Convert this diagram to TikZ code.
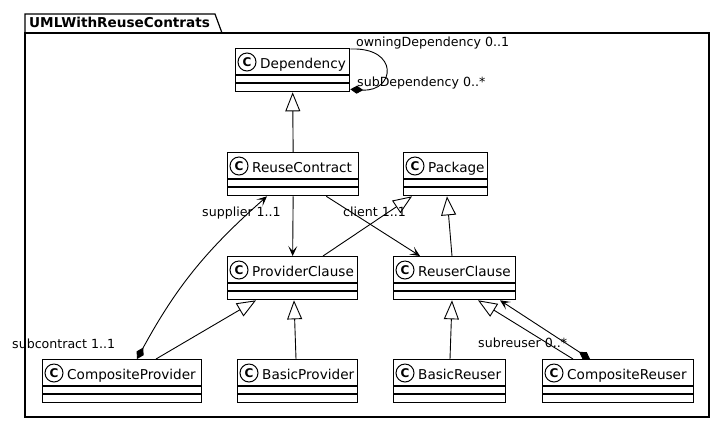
\documentclass[tikz,border=0pt]{standalone}
\usepackage{fontspec}
\setmainfont{DejaVu Sans}
\usetikzlibrary{arrows.meta,calc}
\tikzset{
  classbox/.style={draw, line width=1.3bp, fill=white, minimum height=43bp, inner sep=0pt, anchor=north west},
  cname/.style={font=\fontsize{13.6bp}{16bp}\selectfont, inner sep=0pt, anchor=base west},
  circ/.style={draw, circle, line width=1bp, minimum size=18bp, inner sep=0pt, font=\fontsize{12bp}{12bp}\selectfont\bfseries},
  role/.style={font=\fontsize{12.6bp}{15bp}\selectfont, inner sep=0pt, anchor=base west},
  conn/.style={line width=0.9bp},
  gen/.style={conn, -{Triangle[open, length=19bp, width=15bp, line width=0.9bp]}},
  nav/.style={conn, -{Stealth[length=10bp, width=9bp, inset=5bp]}},
  comp/.style={conn, {Diamond[length=13bp, width=8bp]}-{Stealth[length=10bp, width=9bp, inset=5bp]}},
  frame/.style={draw, line width=1.2bp},
}
\newcommand{\umlclass}[5]{%
  \node[classbox, minimum width=#4bp] (#1) at (#2,#3) {};
  \draw[line width=1.2bp] ([yshift=-27bp]#1.north west) -- ([yshift=-27bp]#1.north east);
  \draw[line width=1.2bp] ([yshift=-35bp]#1.north west) -- ([yshift=-35bp]#1.north east);
  \node[circ] (#1-c) at ([xshift=12bp,yshift=-14bp]#1.north west) {C};
  \node[cname] (#1-t) at ([xshift=25bp,yshift=-20bp]#1.north west) {#5};
}
\begin{document}
\begin{tikzpicture}[x=1bp,y=-1bp]
\useasboundingbox (0,0) rectangle (725,425);
% package frame
\draw[frame] (25,33) -- (25,14) -- (215,14) -- (222,33);
\draw[frame] (25,33) rectangle (709,417);
\node[font=\fontsize{13.6bp}{16bp}\selectfont\bfseries, inner sep=0pt, anchor=base west] (ptitle) at (29,27) {UMLWithReuseContrats};
% classes
\umlclass{dep}{235}{48}{114}{Dependency}
\umlclass{rc}{227}{152}{131}{ReuseContract}
\umlclass{pkg}{403}{152}{84}{Package}
\umlclass{pc}{227}{256}{130}{ProviderClause}
\umlclass{ruc}{393}{256}{122}{ReuserClause}
\umlclass{cp}{42}{359}{159}{CompositeProvider}
\umlclass{bp}{237}{359}{120}{BasicProvider}
\umlclass{br}{393}{359}{112}{BasicReuser}
\umlclass{cr}{542}{359}{151}{CompositeReuser}
% connectors
\draw[conn, {Diamond[length=13bp, width=8bp]}-] ([yshift=3bp]dep.south east) .. controls (395,92) and (400,47) .. ([yshift=-1bp]dep.north east);
\draw[gen] (rc.north) -- (dep.south);
\draw[nav] (rc.south) -- (pc.north);
\draw[nav] ([xshift=-33bp]rc.south east) -- ([xshift=27bp]ruc.north west);
\draw[comp] ([xshift=95bp]cp.north west) to[bend left=10] ([xshift=40bp]rc.south west);
\draw[gen] ([xshift=96bp]pc.north west) -- ([xshift=9bp]pkg.south west);
\draw[gen] ([xshift=59bp]ruc.north west) -- ([xshift=44bp]pkg.south west);
\draw[gen] ([xshift=114bp]cp.north west) -- ([xshift=29bp]pc.south west);
\draw[gen] ([xshift=59bp]bp.north west) -- ([xshift=67bp]pc.south west);
\draw[gen] ([xshift=57bp]br.north west) -- ([xshift=59bp]ruc.south west);
\draw[gen] ([xshift=31bp]cr.north west) -- ([xshift=85bp]ruc.south west);
\draw[comp] ([xshift=48bp]cr.north west) -- ([xshift=107bp]ruc.south west);
% role labels
\node[role] (l1) at (356,46) {owningDependency 0..1};
\node[role] (l2) at (357,86) {subDependency 0..*};
\node[role] (l3) at (202,216) {supplier 1..1};
\node[role] (l4) at (343,216) {client 1..1};
\node[role] (l5) at (12,348) {subcontract 1..1};
\node[role] (l6) at (478,347) {subreuser 0..*};
\end{tikzpicture}
\end{document}
